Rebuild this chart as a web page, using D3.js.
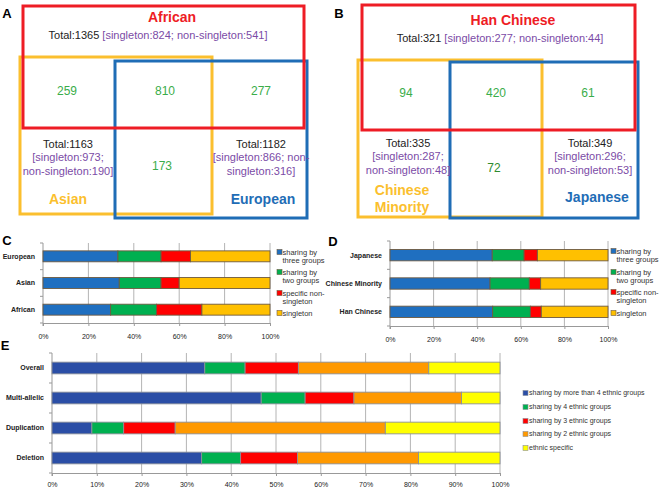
<!DOCTYPE html>
<html><head><meta charset="utf-8">
<script src="https://cdn.jsdelivr.net/npm/d3@7"></script>
<style>body{margin:0;background:#fff}svg{display:block;font-family:"Liberation Sans",Arial,sans-serif}</style>
</head><body>
<script>
// ---------- Venn data ----------
const groupsA = ["African", "Asian", "European"];
const totalsA = [1365, 1163, 1182];
const singletonA = [824, 973, 866];
const nonSingletonA = [541, 190, 316];
// [top∩left only, all three, top∩right only, left∩right only]
const overlapsA = [259, 810, 277, 173];

const groupsB = ["Han Chinese", "Chinese Minority", "Japanese"];
const totalsB = [321, 335, 349];
const singletonB = [277, 287, 296];
const nonSingletonB = [44, 48, 53];
const overlapsB = [94, 420, 61, 72];

// ---------- Panel C ----------
const categoriesC = ["European", "Asian", "African"];
const seriesCD = ["sharing by three groups", "sharing by two groups", "specific non-singleton", "singleton"];
const threeC = [33.0, 33.6, 29.8];
const twoC = [19.0, 18.4, 20.2];
const specificC = [13.0, 8.0, 20.0];
const singleC = [35.0, 40.0, 30.0];

// ---------- Panel D ----------
const categoriesD = ["Japanese", "Chinese Minority", "Han Chinese"];
const threeD = [46.9, 45.9, 47.1];
const twoD = [14.6, 18.0, 17.3];
const specificD = [6.1, 5.2, 5.0];
const singleD = [32.4, 30.9, 30.6];

// ---------- Panel E ----------
const categoriesE = ["Overall", "Multi-allelic", "Duplication", "Deletion"];
const seriesE = ["sharing by more than 4 ethnic groups", "sharing by 4 ethnic groups", "sharing by 3 ethnic groups", "sharing by 2 ethnic groups", "ethnic specific"];
const moreThan4E = [34.1, 46.7, 8.9, 33.4];
const four4E = [9.0, 9.8, 7.1, 8.7];
const three3E = [11.9, 10.9, 11.5, 12.7];
const two2E = [29.1, 24.0, 46.9, 27.0];
const specificE = [15.9, 8.6, 25.6, 18.2];

const ticksCD = [0, 20, 40, 60, 80, 100];
const ticksE = [0, 10, 20, 30, 40, 50, 60, 70, 80, 90, 100];

const svg = d3.select("body").append("svg").attr("width", 661).attr("height", 490);

// panel letters
[["A", 7, 13], ["B", 339, 13], ["C", 7, 240], ["D", 333, 241], ["E", 5, 345]].forEach(([t, x, y]) => {
  svg.append("text").attr("x", x).attr("y", y).attr("dy", "0.35em").attr("text-anchor", "middle")
    .attr("font-size", 13).attr("font-weight", "bold").text(t);
});

// ---------- Venn drawing ----------
const RED = "#ee1c25", YEL = "#fbbf2e", BLU = "#1f6db6", GRN = "#3aad4a", PUR = "#7b4ba6";
function venn(cfg) {
  const g = svg.append("g");
  const rect = (r, c) => g.append("rect").attr("x", r[0]).attr("y", r[1]).attr("width", r[2] - r[0]).attr("height", r[3] - r[1])
    .attr("fill", "none").attr("stroke", c).attr("stroke-width", 3);
  rect(cfg.yel, YEL); rect(cfg.blu, BLU); rect(cfg.red, RED);
  const txt = (x, y, s, col, size, bold) => g.append("text").attr("x", x).attr("y", y).attr("dy", "0.35em")
    .attr("text-anchor", "middle").attr("font-size", size).attr("fill", col).attr("font-weight", bold ? "bold" : "normal").text(s);
  txt(cfg.titleX, cfg.titleY, cfg.groups[0], RED, 14, true);
  const t = g.append("text").attr("x", cfg.totX).attr("y", cfg.totY).attr("dy", "0.35em").attr("text-anchor", "middle").attr("font-size", 11);
  t.append("tspan").attr("fill", "#222").text(`Total:${cfg.totals[0]} `);
  t.append("tspan").attr("fill", PUR).text(`[singleton:${cfg.single[0]}; non-singleton:${cfg.non[0]}]`);
  cfg.ovPos.forEach((p, i) => txt(p[0], p[1], cfg.overlaps[i], i === 3 ? cfg.ov4col : GRN, 12, false));
  [1, 2].forEach(k => {
    const lines = cfg.lines[k - 1](cfg.totals[k], cfg.single[k], cfg.non[k]);
    const [x, y] = cfg.sidePos[k - 1];
    lines.forEach((l, j) => txt(x, y + j * 13.5, l, j === 0 ? "#222" : PUR, 11, false));
    const lab = cfg.labels[k - 1];
    lab.forEach((l, j) => txt(cfg.labPos[k - 1][0], cfg.labPos[k - 1][1] + j * 17, l, k === 1 ? YEL : BLU, 14, true));
  });
}
venn({
  groups: groupsA, totals: totalsA, single: singletonA, non: nonSingletonA, overlaps: overlapsA,
  red: [23, 6, 304, 128], yel: [20, 57, 212, 214], blu: [115, 61, 307, 218],
  titleX: 172, titleY: 17, totX: 158, totY: 35,
  ovPos: [[67, 91], [165, 91], [261, 91], [162, 166]], ov4col: GRN,
  sidePos: [[68, 144], [261, 144]],
  lines: [(t, s, n) => [`Total:${t}`, `[singleton:${s};`, `non-singleton:${n}]`],
          (t, s, n) => [`Total:${t}`, `[singleton:${s}; non-`, `singleton:${n}]`]],
  labels: [[groupsA[1]], [groupsA[2]]], labPos: [[68, 199], [263, 199]]
});
venn({
  groups: groupsB, totals: totalsB, single: singletonB, non: nonSingletonB, overlaps: overlapsB,
  red: [362, 5, 635, 130], yel: [358, 60, 542, 217], blu: [450, 62, 638, 218],
  titleX: 513, titleY: 20, totX: 500, totY: 38,
  ovPos: [[406, 93], [496, 93], [588, 93], [494, 168]], ov4col: "#2e8b2e",
  sidePos: [[408, 143], [590, 143]],
  lines: [(t, s, n) => [`Total:${t}`, `[singleton:${s};`, `non-singleton:${n}]`],
          (t, s, n) => [`Total:${t}`, `[singleton:${s};`, `non-singleton:${n}]`]],
  labels: [["Chinese", "Minority"], [groupsB[2]]], labPos: [[402, 190], [597, 197]]
});

// ---------- Stacked bars ----------
function stacked(cfg) {
  const g = svg.append("g");
  const x = d3.scaleLinear().domain([0, 100]).range([cfg.x0, cfg.x1]);
  const y = d3.scaleBand().domain(cfg.cats).range([cfg.y0, cfg.y1]).paddingInner(cfg.pad).paddingOuter(cfg.pad / 2);
  g.selectAll(".grid").data(cfg.ticks.slice(1)).join("line")
    .attr("x1", d => x(d)).attr("x2", d => x(d)).attr("y1", cfg.y0).attr("y2", cfg.y1)
    .attr("stroke", "#b4b4b4").attr("stroke-width", 1);
  const xa = g.append("g").attr("transform", `translate(0,${cfg.y1})`)
    .call(d3.axisBottom(x).tickValues(cfg.ticks).tickFormat(d => d + "%").tickSize(3).tickPadding(cfg.tp));
  xa.select(".domain").attr("stroke", "#999");
  xa.selectAll(".tick line").attr("stroke", "#999");
  xa.selectAll("text").attr("font-size", 7).attr("fill", "#222").attr("font-family", "Liberation Sans, Arial, sans-serif");
  g.append("line").attr("x1", cfg.x0).attr("x2", cfg.x0).attr("y1", cfg.y0).attr("y2", cfg.y1 + 3).attr("stroke", "#999");
  const bounds = d3.range(cfg.cats.length + 1).map(i => cfg.y0 + i * y.step());
  g.selectAll(".yt").data(bounds).join("line").attr("x1", cfg.x0 - 3).attr("x2", cfg.x0)
    .attr("y1", d => d).attr("y2", d => d).attr("stroke", "#999");
  g.selectAll(".yl").data(cfg.cats).join("text").attr("x", cfg.x0 - 8).attr("y", d => y(d) + y.bandwidth() / 2)
    .attr("dy", "0.35em").attr("text-anchor", "end").attr("font-size", 7).attr("font-weight", "bold").attr("fill", "#222").text(d => d);
  const rows = cfg.cats.map((c, i) => { const o = { cat: c }; cfg.series.forEach((s, k) => o[s] = cfg.values[k][i]); return o; });
  const st = d3.stack().keys(cfg.series)(rows);
  st.forEach((layer, k) => {
    g.selectAll(null).data(layer).join("rect")
      .attr("x", d => x(d[0])).attr("width", d => x(d[1]) - x(d[0]))
      .attr("y", d => y(d.data.cat)).attr("height", y.bandwidth())
      .attr("fill", cfg.colors[k]).attr("stroke", cfg.stroke).attr("stroke-width", 0.9);
  });
  cfg.legend.forEach((lab, k) => {
    const ly = cfg.legY[k];
    g.append("rect").attr("x", cfg.legX).attr("y", ly - 2.5).attr("width", 5).attr("height", 5)
      .attr("fill", cfg.colors[k]).attr("stroke", cfg.stroke).attr("stroke-width", 0.6);
    lab.forEach((l, j) => g.append("text").attr("x", cfg.legX + cfg.legDx).attr("y", ly + j * cfg.legLine).attr("dy", "0.35em")
      .attr("font-size", cfg.legFont).attr("fill", "#333").text(l));
  });
}
const colCD = ["#1f6fc0", "#00b050", "#ff0000", "#ffc000"];
const legCD = [["sharing by", "three groups"], ["sharing by", "two groups"], ["specific non-", "singleton"], ["singleton"]];
stacked({
  cats: categoriesC, series: seriesCD, values: [threeC, twoC, specificC, singleC], colors: colCD, stroke: "#6e5a40",
  x0: 43, x1: 270, y0: 243, y1: 323, pad: 0.59, ticks: ticksCD, tp: 8,
  legend: legCD, legX: 277, legDx: 5.5, legY: [252, 272, 293, 313], legLine: 8.5, legFont: 7.5
});
stacked({
  cats: categoriesD, series: seriesCD, values: [threeD, twoD, specificD, singleD], colors: colCD, stroke: "#6e5a40",
  x0: 390, x1: 608, y0: 241, y1: 326, pad: 0.6, ticks: ticksCD, tp: 8,
  legend: legCD, legX: 611, legDx: 5.5, legY: [251, 272, 292, 313], legLine: 8.5, legFont: 7.5
});
stacked({
  cats: categoriesE, series: seriesE, values: [moreThan4E, four4E, three3E, two2E, specificE],
  colors: ["#2b4ea6", "#00b050", "#ff0000", "#ff9900", "#ffff00"], stroke: "#8b8f9a",
  x0: 52, x1: 500, y0: 353, y1: 473, pad: 0.61, ticks: ticksE, tp: 6,
  legend: seriesE.map(s => [s]), legX: 523, legDx: 6, legY: [393, 407, 421, 434, 448], legLine: 10, legFont: 7
});
</script>
</body></html>
